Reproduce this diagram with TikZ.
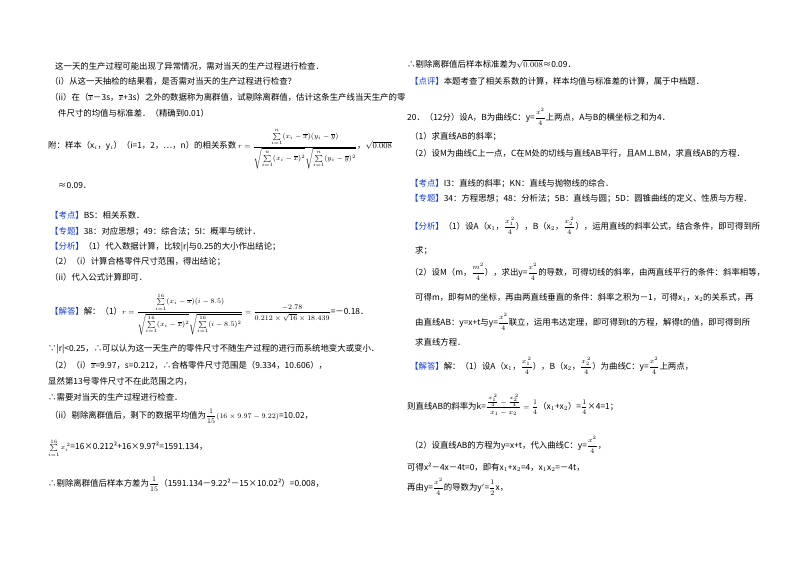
\documentclass[tikz,border=0pt]{standalone}
\usepackage{fontspec}
\usepackage{amsmath}
\newfontfamily\cjk{Noto Sans CJK SC}
\definecolor{kb}{RGB}{20,60,220}
\begin{document}
\begin{tikzpicture}[x=1pt,y=-1pt,
  t/.style={anchor=west,inner sep=0pt,font=\cjk\fontsize{8.4}{10}\selectfont}]
\useasboundingbox[fill=white] (0,0) rectangle (800,565);
\newcommand\kb[1]{\textcolor{kb}{【#1】}}
% left column
\node[t] (l1) at (55,66) {这一天的生产过程可能出现了异常情况，需对当天的生产过程进行检查．};
\node[t] (l2) at (50,81) {（i）从这一天抽检的结果看，是否需对当天的生产过程进行检查？};
\node[t] (l3) at (50,97) {（ii）在（$\overline{x}$－3s，$\overline{x}$+3s）之外的数据称为离群值，试剔除离群值，估计这条生产线当天生产的零};
\node[t] (l4) at (58,113) {件尺寸的均值与标准差．（精确到0.01）};
\node[t] (l5) at (48,149) {附：样本（x$_i$，y$_i$）（i=1，2，…，n）的相关系数 {\scriptsize $r=\dfrac{\sum\limits_{i=1}^{n}(x_i-\overline{x})(y_i-\overline{y})}{\sqrt{\sum\limits_{i=1}^{n}(x_i-\overline{x})^2}\sqrt{\sum\limits_{i=1}^{n}(y_i-\overline{y})^2}}$}，$\sqrt{0.008}$};
\node[t] (l6) at (58,186) {≈0.09．};
\node[t] (l7) at (50,215) {\kb{考点}BS：相关系数．};
\node[t] (l8) at (50,232) {\kb{专题}38：对应思想；49：综合法；5I：概率与统计．};
\node[t] (l9) at (50,247) {\kb{分析}（1）代入数据计算，比较|r|与0.25的大小作出结论；};
\node[t] (l10) at (50,262) {（2）（i）计算合格零件尺寸范围，得出结论；};
\node[t] (l11) at (50,277) {（ii）代入公式计算即可．};
\node[t] (l12) at (50,314) {\kb{解答}解：（1）{\scriptsize $r=\dfrac{\sum\limits_{i=1}^{16}(x_i-\overline{x})(i-8.5)}{\sqrt{\sum\limits_{i=1}^{16}(x_i-\overline{x})^2}\sqrt{\sum\limits_{i=1}^{16}(i-8.5)^2}}=\dfrac{-2.78}{0.212\times\sqrt{16}\times18.439}$}=－0.18．};
\node[t] (l13) at (48,349) {∵|r|<0.25，∴可以认为这一天生产的零件尺寸不随生产过程的进行而系统地变大或变小．};
\node[t] (l14) at (50,365) {（2）（i）$\overline{x}$=9.97，s=0.212，∴合格零件尺寸范围是（9.334，10.606），};
\node[t] (l15) at (48,381) {显然第13号零件尺寸不在此范围之内，};
\node[t] (l16) at (48,397) {∴需要对当天的生产过程进行检查．};
\node[t] (l17) at (50,416) {（ii）剔除离群值后，剩下的数据平均值为{\scriptsize $\dfrac{1}{15}(16\times9.97-9.22)$}=10.02，};
\node[t] (l18) at (48,448) {{\scriptsize $\sum\limits_{i=1}^{16}x_i^{\,2}$}=16×0.212²+16×9.97²=1591.134，};
\node[t] (l19) at (48,484) {∴剔除离群值后样本方差为{\scriptsize $\dfrac{1}{15}$}（1591.134－9.22²－15×10.02²）=0.008，};
% right column
\node[t] (r1) at (407,64) {∴剔除离群值后样本标准差为$\sqrt{0.008}$≈0.09．};
\node[t] (r2) at (410,81) {\kb{点评}本题考查了相关系数的计算，样本均值与标准差的计算，属于中档题．};
\node[t] (r3) at (407,117) {20．（12分）设A，B为曲线C：y={\scriptsize $\dfrac{x^2}{4}$}上两点，A与B的横坐标之和为4．};
\node[t] (r4) at (410,137) {（1）求直线AB的斜率；};
\node[t] (r5) at (410,153) {（2）设M为曲线C上一点，C在M处的切线与直线AB平行，且AM⊥BM，求直线AB的方程．};
\node[t] (r6) at (410,184) {\kb{考点}I3：直线的斜率；KN：直线与抛物线的综合．};
\node[t] (r7) at (410,199) {\kb{专题}34：方程思想；48：分析法；5B：直线与圆；5D：圆锥曲线的定义、性质与方程．};
\node[t] (r8) at (410,226) {\kb{分析}（1）设A（x$_1$，{\scriptsize $\dfrac{x_1^{\,2}}{4}$}），B（x$_2$，{\scriptsize $\dfrac{x_2^{\,2}}{4}$}），运用直线的斜率公式，结合条件，即可得到所};
\node[t] (r9) at (415,251) {求；};
\node[t] (r10) at (410,272) {（2）设M（m，{\scriptsize $\dfrac{m^2}{4}$}），求出y={\scriptsize $\dfrac{x^2}{4}$}的导数，可得切线的斜率，由两直线平行的条件：斜率相等，};
\node[t] (r11) at (415,297) {可得m，即有M的坐标，再由两直线垂直的条件：斜率之积为－1，可得x$_1$，x$_2$的关系式，再};
\node[t] (r12) at (415,322) {由直线AB：y=x+t与y={\scriptsize $\dfrac{x^2}{4}$}联立，运用韦达定理，即可得到t的方程，解得t的值，即可得到所};
\node[t] (r13) at (415,342) {求直线方程．};
\node[t] (r14) at (410,366) {\kb{解答}解：（1）设A（x$_1$，{\scriptsize $\dfrac{x_1^{\,2}}{4}$}），B（x$_2$，{\scriptsize $\dfrac{x_2^{\,2}}{4}$}）为曲线C：y={\scriptsize $\dfrac{x^2}{4}$}上两点，};
\node[t] (r15) at (407,405) {则直线AB的斜率为k={\scriptsize $\dfrac{\frac{x_1^{\,2}}{4}-\frac{x_2^{\,2}}{4}}{x_1-x_2}=\dfrac{1}{4}$}（x$_1$+x$_2$）={\scriptsize $\dfrac{1}{4}$}×4=1；};
\node[t] (r16) at (410,445) {（2）设直线AB的方程为y=x+t，代入曲线C：y={\scriptsize $\dfrac{x^2}{4}$}，};
\node[t] (r17) at (407,467) {可得x²－4x－4t=0，即有x$_1$+x$_2$=4，x$_1$x$_2$=－4t，};
\node[t] (r18) at (407,487) {再由y={\scriptsize $\dfrac{x^2}{4}$}的导数为y$'$={\scriptsize $\dfrac{1}{2}$}x，};
\end{tikzpicture}
\end{document}
